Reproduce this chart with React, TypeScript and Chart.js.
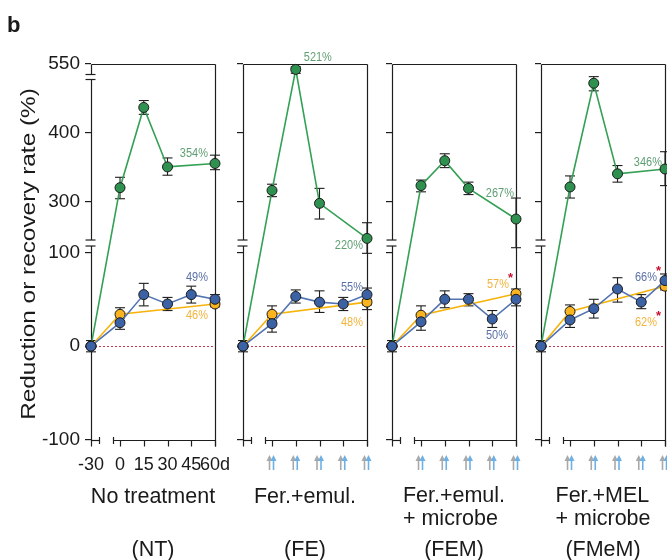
import React, { useEffect, useRef } from 'react';
import { Chart, registerables, LinearScale } from 'chart.js';

const FONT = '"Liberation Sans", Arial, Helvetica, sans-serif';

// ---------------- data ----------------
const days = [-30, 0, 15, 30, 45, 60];
const xTickLabels = ['-30', '0', '15', '30', '45', '60d'];
const yTickValues = [-100, 0, 100, 300, 400, 550];
const yTickLabels = ['-100', '0', '100', '300', '400', '550'];

// No treatment (NT)
const ntGreen = [0, 320, 436, 350, null, 355];
const ntGreenErr = [null, [304, 335], [426, 446], [338, 363], null, [346, 367]];
const ntBlue = [0, 25, 55, 45, 55, 50];
const ntBlueErr = [[-6, 6], [18, 30], [43, 67], [38, 52], [46, 64], [45, 55]];
const ntOrange = [0, 34, null, null, null, 45];
const ntOrangeErr = [null, [27, 41], null, null, null, [42, 48]];

// Fer.+emul. (FE)
const feGreen = [0, 316, 521, 296, null, 220];
const feGreenErr = [null, [307, 325], [500, 535], [262, 319], null, [99, 254]];
const feBlue = [0, 24, 53, 47, 45, 55];
const feBlueErr = [[-6, 6], [15, 31], [46, 60], [36, 59], [38, 52], [39, 62]];
const feOrange = [0, 34, null, null, null, 47];
const feOrangeErr = [null, [27, 43], null, null, null, [44, 50]];

// Fer.+emul. + microbe (FEM)
const femGreen = [0, 323, 359, 319, null, 262];
const femGreenErr = [null, [314, 331], [349, 369], [310, 328], null, [105, 305]];
const femBlue = [0, 26, 50, 50, 29, 50];
const femBlueErr = [[-6, 6], [17, 34], [41, 59], [43, 56], [20, 38], [43, 58]];
const femOrange = [0, 33, null, null, null, 56];
const femOrangeErr = [null, [24, 43], null, null, null, [51, 61]];

// Fer.+MEL + microbe (FMeM)
const fmGreen = [0, 321, 471, 340, null, 347];
const fmGreenErr = [null, [305, 337], [460, 482], [328, 352], null, [323, 372]];
const fmBlue = [0, 28, 40, 61, 47, 70];
const fmBlueErr = [[-6, 6], [20, 36], [30, 50], [47, 73], [40, 55], [62, 77]];
const fmOrange = [0, 37, null, null, null, 64];
const fmOrangeErr = [null, [30, 44], null, null, null, [60, 68]];

const ntNotes = ['354%', '49%', '46%'];
const feNotes = ['521%', '220%', '55%', '48%'];
const femNotes = ['267%', '57%', '50%'];
const fmNotes = ['346%', '66%', '62%'];

const groupNames = [['No treatment'], ['Fer.+emul.'], ['Fer.+emul.', '+ microbe'], ['Fer.+MEL', '+ microbe']];
const groupCodes = ['(NT)', '(FE)', '(FEM)', '(FMeM)'];

// ---------------- layout / style ----------------
const panelSeries = [
  [ntGreen, ntBlue, ntOrange],
  [feGreen, feBlue, feOrange],
  [femGreen, femBlue, femOrange],
  [fmGreen, fmBlue, fmOrange],
];
const panelErrs = [
  [ntGreenErr, ntBlueErr, ntOrangeErr],
  [feGreenErr, feBlueErr, feOrangeErr],
  [femGreenErr, femBlueErr, femOrangeErr],
  [fmGreenErr, fmBlueErr, fmOrangeErr],
];
const panelNotes = [ntNotes, feNotes, femNotes, fmNotes];
const noteLayout = [
  [
    { s: 0, i: 5, dx: -7, dy: -9.5, al: 'right' },
    { s: 1, i: 5, dx: -7, dy: -22, al: 'right' },
    { s: 2, i: 5, dx: -7, dy: 11, al: 'right' },
  ],
  [
    { s: 0, i: 2, dx: 8, dy: -11.5, al: 'left' },
    { s: 0, i: 5, dx: -4, dy: 6.6, al: 'right' },
    { s: 1, i: 5, dx: -4, dy: -7, al: 'right' },
    { s: 2, i: 5, dx: -4, dy: 20, al: 'right' },
  ],
  [
    { s: 0, i: 5, dx: -2, dy: -26, al: 'right' },
    { s: 2, i: 5, dx: -7, dy: -9, al: 'right', star: true },
    { s: 1, i: 5, dx: -8, dy: 36, al: 'right' },
  ],
  [
    { s: 0, i: 5, dx: -3, dy: -7, al: 'right' },
    { s: 1, i: 5, dx: -8, dy: -3.5, al: 'right', star: true },
    { s: 2, i: 5, dx: -8, dy: 36, al: 'right', star: true },
  ],
];

const seriesLine = ['#33a055', '#5274b2', '#f6b30a'];
const seriesFill = ['#2f9150', '#3c62a6', '#f9b41f'];
const noteColor = ['#5f9e73', '#5a70a6', '#f3b43d'];
const STAR = '#c8102e';
const AXIS = '#1e1e1e';
const TEXT = '#1a1a1a';

const panelLefts = [91, 243, 392, 541];
const AXW = 91; // width reserved for y axis in every canvas
const PW = 124; // plot width
const CW = 245;
const CH = 560;
const TOP = 64;
const BOTTOM = 440;

// axis break mapping (value -> fraction of plot height)
const yKnotValues = [-100, 110, 210, 300, 480, 550];
const yKnotFracs = [0, 0.5239, 0.5239, 0.6343, 0.9654, 1];
const BREAK_LOW = 110;
const BREAK_HIGH = 480;
const xKnotValues = [-30, 0, 60];
const xKnotFracs = [0, 0.234, 1];

function interp(v: number, xs: number[], ys: number[]) {
  const n = xs.length;
  if (v == null || isNaN(v)) return NaN;
  if (v <= xs[0]) {
    const d = xs[1] - xs[0];
    return ys[0] + ((v - xs[0]) / d) * (ys[1] - ys[0]);
  }
  for (let i = 0; i < n - 1; i++) {
    if (v <= xs[i + 1]) {
      const d = xs[i + 1] - xs[i];
      if (d === 0) return ys[i + 1];
      return ys[i] + ((v - xs[i]) / d) * (ys[i + 1] - ys[i]);
    }
  }
  const d = xs[n - 1] - xs[n - 2];
  return ys[n - 1] + ((v - xs[n - 1]) / d) * (ys[n - 1] - ys[n - 2]);
}

class BrokenY extends LinearScale {
  static id = 'brokenY';
  static defaults = {};
  buildTicks() {
    (this as any).start = (this as any).min;
    (this as any).end = (this as any).max;
    return yTickValues.map((v) => ({ value: v }));
  }
  getPixelForValue(value: number) {
    const f = interp(value, yKnotValues, yKnotFracs);
    return this.bottom - f * (this.bottom - this.top);
  }
  getValueForPixel(pixel: number) {
    const f = (this.bottom - pixel) / (this.bottom - this.top);
    return interp(f, yKnotFracs, yKnotValues);
  }
}

class BrokenX extends LinearScale {
  static id = 'brokenX';
  static defaults = {};
  buildTicks() {
    (this as any).start = (this as any).min;
    (this as any).end = (this as any).max;
    return days.map((v) => ({ value: v }));
  }
  getPixelForValue(value: number) {
    const f = interp(value, xKnotValues, xKnotFracs);
    return this.left + f * (this.right - this.left);
  }
  getValueForPixel(pixel: number) {
    const f = (pixel - this.left) / (this.right - this.left);
    return interp(f, xKnotFracs, xKnotValues);
  }
}

Chart.register(...registerables, BrokenY, BrokenX);
Chart.defaults.font.family = FONT;

function seg(ctx: CanvasRenderingContext2D, x1: number, y1: number, x2: number, y2: number) {
  ctx.beginPath();
  ctx.moveTo(x1, y1);
  ctx.lineTo(x2, y2);
  ctx.stroke();
}

function arrow(ctx: CanvasRenderingContext2D, x: number, y0: number, y1: number, color: string) {
  ctx.fillStyle = color;
  ctx.strokeStyle = color;
  ctx.beginPath();
  ctx.moveTo(x, y0);
  ctx.lineTo(x - 3, y0 + 6);
  ctx.lineTo(x + 3, y0 + 6);
  ctx.closePath();
  ctx.fill();
  ctx.lineWidth = 1.6;
  seg(ctx, x, y0 + 5, x, y1);
}

function makeDeco(k: number) {
  return {
    id: 'deco' + k,
    beforeDatasetsDraw(chart: any) {
      const ctx: CanvasRenderingContext2D = chart.ctx;
      const { left, right, top, bottom } = chart.chartArea;
      const xs = chart.scales.x;
      const ys = chart.scales.y;
      const L = Math.round(left) + 0.5;
      const R = Math.round(right) + 0.5;
      const T = Math.round(top) + 0.5;
      const B = Math.round(bottom) + 0.5;
      ctx.save();
      ctx.strokeStyle = AXIS;
      ctx.lineWidth = 1.2;
      // frame top & right
      seg(ctx, L, T, R, T);
      seg(ctx, R, T, R, B + 6);
      // left axis with breaks
      const lb = ys.getPixelForValue(BREAK_LOW);
      const tb = ys.getPixelForValue(BREAK_HIGH);
      if (k === 0) {
        seg(ctx, L, T, L, tb - 2.5);
        seg(ctx, L, tb + 2.5, L, lb - 3);
        seg(ctx, L - 6, tb - 2.5, L + 4, tb - 2.5);
        seg(ctx, L - 6, tb + 2.5, L + 4, tb + 2.5);
      } else {
        seg(ctx, L, T, L, lb - 3);
      }
      seg(ctx, L, lb + 3, L, B + 6);
      seg(ctx, L - 6, lb - 3, L + 4, lb - 3);
      seg(ctx, L - 6, lb + 3, L + 4, lb + 3);
      // broken x axis
      seg(ctx, L, B, L + 8, B);
      seg(ctx, L + 8, B - 3.5, L + 8, B + 3.5);
      const x0 = Math.round(xs.getPixelForValue(0)) + 0.5;
      seg(ctx, x0 - 7, B - 3.5, x0 - 7, B + 3.5);
      seg(ctx, x0 - 7, B, R, B);
      days.forEach((d) => {
        if (d < 0) return;
        const px = Math.round(xs.getPixelForValue(d)) + 0.5;
        seg(ctx, px, B, px, B + 6);
      });
      // zero reference line
      ctx.strokeStyle = '#c33a50';
      ctx.lineWidth = 1;
      ctx.setLineDash([2, 2]);
      const y0 = Math.round(ys.getPixelForValue(0)) + 0.5;
      seg(ctx, xs.getPixelForValue(days[0]), y0, xs.getPixelForValue(days[days.length - 1]), y0);
      ctx.setLineDash([]);
      // error bars
      ctx.strokeStyle = AXIS;
      ctx.lineWidth = 1.1;
      panelErrs[k].forEach((errs) => {
        errs.forEach((e: any, i: number) => {
          if (!e) return;
          const px = xs.getPixelForValue(days[i]);
          const ya = ys.getPixelForValue(e[0]);
          const yb = ys.getPixelForValue(e[1]);
          seg(ctx, px, ya, px, yb);
          seg(ctx, px - 5, ya, px + 5, ya);
          seg(ctx, px - 5, yb, px + 5, yb);
        });
      });
      // treatment arrows
      if (k > 0) {
        days.forEach((d) => {
          if (d < 0) return;
          const px = xs.getPixelForValue(d);
          arrow(ctx, px - 2.5, bottom + 15, bottom + 30, '#a9a9a9');
          arrow(ctx, px + 1.5, bottom + 15, bottom + 30, '#6db0e6');
        });
      }
      ctx.restore();
    },
    afterDatasetsDraw(chart: any) {
      const ctx: CanvasRenderingContext2D = chart.ctx;
      const xs = chart.scales.x;
      const ys = chart.scales.y;
      ctx.save();
      noteLayout[k].forEach((n: any, j: number) => {
        const vals = panelSeries[k][n.s];
        const px = xs.getPixelForValue(days[n.i]) + n.dx;
        const py = ys.getPixelForValue(vals[n.i]) + n.dy;
        const text = panelNotes[k][j];
        ctx.save();
        ctx.translate(px, py);
        ctx.scale(1, 1.16);
        ctx.font = `11px ${FONT}`;
        ctx.fillStyle = noteColor[n.s];
        ctx.textAlign = n.al;
        ctx.textBaseline = 'middle';
        ctx.fillText(text, 0, 0);
        ctx.restore();
        if (n.star) {
          ctx.save();
          ctx.font = `bold 13px ${FONT}`;
          ctx.fillStyle = STAR;
          ctx.textAlign = 'center';
          ctx.textBaseline = 'alphabetic';
          ctx.fillText('*', px + 1.5, py - 10 + 7.5);
          ctx.restore();
        }
      });
      ctx.restore();
    },
  };
}

function buildConfig(k: number): any {
  const datasets = panelSeries[k].map((vals, s) => ({
    data: days
      .map((d, i) => ({ x: d, y: vals[i] }))
      .filter((p) => p.y !== null),
    borderColor: seriesLine[s],
    borderWidth: 1.6,
    pointRadius: 5,
    pointBackgroundColor: seriesFill[s],
    pointBorderColor: '#1b1b1b',
    pointBorderWidth: 1,
    tension: 0,
    clip: false,
    order: s === 1 ? 0 : s === 2 ? 1 : 2,
  }));
  return {
    type: 'line',
    data: { datasets },
    options: {
      responsive: false,
      animation: false,
      devicePixelRatio: 1,
      events: [],
      layout: { padding: { left: 0, right: CW - AXW - PW, top: TOP, bottom: 0 } },
      plugins: { legend: { display: false }, tooltip: { enabled: false } },
      scales: {
        x: {
          type: 'brokenX',
          position: 'bottom',
          min: -30,
          max: 60,
          grid: { display: false, drawTicks: false },
          border: { display: false },
          ticks: {
            display: k === 0,
            autoSkip: false,
            maxRotation: 0,
            minRotation: 0,
            padding: 14,
            color: TEXT,
            font: { size: 18, family: FONT },
            callback: (_v: any, i: number) => xTickLabels[i],
          },
          afterFit: (s: any) => {
            s.height = CH - BOTTOM;
          },
        },
        y: {
          type: 'brokenY',
          position: 'left',
          min: -100,
          max: 550,
          grid: { display: true, drawOnChartArea: false, drawTicks: true, tickLength: 6, color: AXIS, lineWidth: 1.2 },
          border: { display: false },
          ticks: {
            display: k === 0,
            autoSkip: false,
            padding: 5,
            color: TEXT,
            font: { size: 19, family: FONT },
            callback: (_v: any, i: number) => yTickLabels[i],
          },
          afterFit: (s: any) => {
            s.width = AXW;
          },
        },
      },
    },
    plugins: [makeDeco(k)],
  };
}

function Panel({ k }: { k: number }) {
  const ref = useRef<HTMLCanvasElement | null>(null);
  useEffect(() => {
    const chart = new Chart(ref.current as HTMLCanvasElement, buildConfig(k));
    return () => chart.destroy();
  }, [k]);
  return (
    <canvas
      ref={ref}
      width={CW}
      height={CH}
      style={{ position: 'absolute', left: panelLefts[k] - AXW, top: 0, width: CW, height: CH }}
    />
  );
}

export default function App() {
  return (
    <div
      style={{
        position: 'absolute',
        left: 0,
        top: 0,
        width: 667,
        height: 560,
        overflow: 'hidden',
        background: '#ffffff',
        fontFamily: FONT,
        color: TEXT,
      }}
    >
      {[0, 1, 2, 3].map((k) => (
        <Panel key={k} k={k} />
      ))}
      <div style={{ position: 'absolute', left: 7, top: 14, fontSize: 22, lineHeight: '22px', fontWeight: 'bold' }}>b</div>
      <div
        style={{
          position: 'absolute',
          left: 27,
          top: 253.5,
          fontSize: 21,
          lineHeight: '21px',
          whiteSpace: 'nowrap',
          transform: 'translate(-50%, -50%) rotate(-90deg) scaleX(1.16)',
        }}
      >
        Reduction or recovery rate (%)
      </div>
      {groupNames.map((lines, k) => {
        const cx = panelLefts[k] + PW / 2;
        const top = lines.length > 1 ? 483.7 : 485.2;
        return (
          <React.Fragment key={k}>
            <div
              style={{
                position: 'absolute',
                left: cx,
                top,
                transform: 'translateX(-50%)',
                fontSize: 21.5,
                lineHeight: '23px',
                whiteSpace: 'nowrap',
                textAlign: 'left',
              }}
            >
              {lines.map((t, j) => (
                <div key={j}>{t}</div>
              ))}
            </div>
            <div
              style={{
                position: 'absolute',
                left: cx,
                top: 537.7,
                transform: 'translateX(-50%)',
                fontSize: 21.5,
                lineHeight: '23px',
                whiteSpace: 'nowrap',
              }}
            >
              {groupCodes[k]}
            </div>
          </React.Fragment>
        );
      })}
    </div>
  );
}
